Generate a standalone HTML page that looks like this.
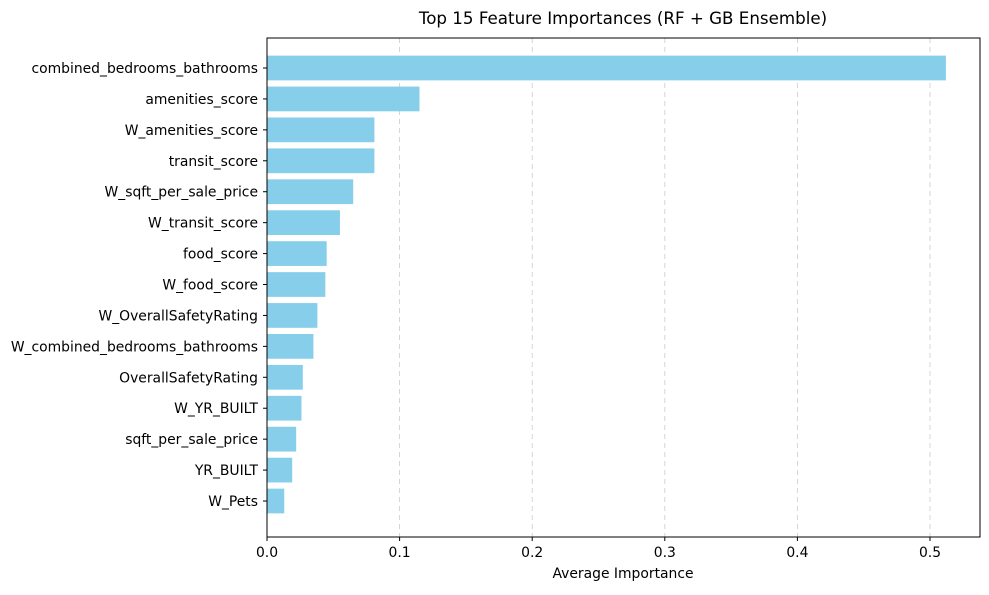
<!DOCTYPE html>
<html><head><meta charset="utf-8"><style>
body{margin:0;background:#fff;font-family:"Liberation Sans","DejaVu Sans",sans-serif;}
svg text{font-family:"DejaVu Sans","Liberation Sans",sans-serif;}
</style></head><body>
<svg id="chart" width="989" height="590" xmlns="http://www.w3.org/2000/svg">
<text x="623" y="24" font-size="16.7" text-anchor="middle" fill="#000">Top 15 Feature Importances (RF + GB Ensemble)</text>
<g id="grid"></g><g id="bars"></g><g id="yaxis"></g><g id="xaxis"></g>
<rect x="267" y="38" width="713" height="499" fill="none" stroke="#000" stroke-width="1"/>
<text x="623" y="578" font-size="13.9" text-anchor="middle">Average Importance</text>
</svg>
<script>
const categories=["combined_bedrooms_bathrooms","amenities_score","W_amenities_score","transit_score","W_sqft_per_sale_price","W_transit_score","food_score","W_food_score","W_OverallSafetyRating","W_combined_bedrooms_bathrooms","OverallSafetyRating","W_YR_BUILT","sqft_per_sale_price","YR_BUILT","W_Pets"];
const importances=[0.512,0.115,0.081,0.081,0.065,0.055,0.045,0.044,0.038,0.035,0.027,0.026,0.022,0.019,0.013];
const xTicks=[0,0.1,0.2,0.3,0.4,0.5];
const xTickLabels=["0.0","0.1","0.2","0.3","0.4","0.5"];
const NS="http://www.w3.org/2000/svg";
const x=v=>267+v*1326;
const step=30.93;
const y=i=>68+i*step;
function mk(t,a,p){const e=document.createElementNS(NS,t);for(const k in a)e.setAttribute(k,a[k]);p.appendChild(e);return e;}
const grid=document.getElementById('grid'),bars=document.getElementById('bars'),ya=document.getElementById('yaxis'),xa=document.getElementById('xaxis');
xTicks.forEach((t,i)=>{
 const g=mk('line',{x1:x(t),x2:x(t),y1:38,y2:537,stroke:'#ccc','stroke-dasharray':'5,4','stroke-width':0.8},grid);
 
 
 const tk=mk('line',{x1:x(t),x2:x(t),y1:537,y2:541,stroke:'#000'},xa);
 
 
 const tl=mk('text',{x:x(t),y:557,'font-size':13.9,'text-anchor':'middle'},xa);
 tl.textContent=xTickLabels[i];
 
 
});
categories.forEach((c,i)=>{
 const h=step*0.8;
 const r=mk('rect',{x:x(0),y:y(i)-h/2,width:x(importances[i])-x(0),height:h,fill:'#87ceeb'},bars);
 
 
 const tk=mk('line',{x1:263,x2:267,y1:y(i),y2:y(i),stroke:'#000'},ya);
 
 
 const tl=mk('text',{x:258,y:y(i)+5,'font-size':13.9,'text-anchor':'end'},ya);
 tl.textContent=c;
 
 
});
</script>
</body></html>
